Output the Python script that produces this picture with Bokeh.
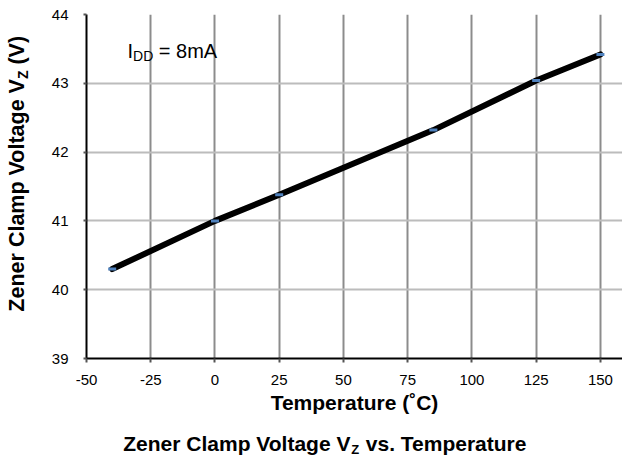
from bokeh.plotting import figure
from bokeh.models import Label, Range1d, FixedTicker, LinearAxis, AllLabels
from bokeh.embed import file_html
from bokeh.resources import INLINE

# ---- data ----
temperature_c = [-40, 0, 25, 85, 125, 150]
vz_volts = [40.30, 41.00, 41.38, 42.32, 43.04, 43.42]
x_ticks = [-50, -25, 0, 25, 50, 75, 100, 125, 150]
x_tick_labels = ["-50", "-25", "0", "25", "50", "75", "100", "125", "150"]
y_ticks = [39, 40, 41, 42, 43, 44]

title_main = "Zener Clamp Voltage V"
title_sub = "Z"
title_rest = "vs. Temperature"
ylabel_main = "Zener Clamp Voltage V"
ylabel_sub = "Z"
ylabel_rest = "(V)"
xlabel = "Temperature (\u02daC)"
note_main = "I"
note_sub = "DD"
note_rest = "= 8mA"

FONT = "Liberation Sans"

# approximate Arial / Liberation Sans advance widths (em)
BOLD_W = {"Z": .611, "e": .556, "n": .611, "r": .389, " ": .278, "C": .722, "l": .278,
          "a": .556, "m": .889, "p": .611, "V": .667, "o": .611, "t": .333, "g": .611,
          "(": .333, ")": .333, "v": .556, "s": .556, ".": .278, "T": .611, "u": .611}
REG_W = {"I": .278, "D": .722, " ": .278, "=": .584, "8": .556, "m": .833, "A": .667}


def tw(s, size, table):
    return sum(table.get(c, .55) for c in s) * size


W, H = 622, 459
FL, FR, FT, FB = 86, 0, 14, 99     # frame borders (page px)
X0, X1 = -50, 158.6
Y0, Y1 = 39, 44

p = figure(width=W, height=H, output_backend="svg", toolbar_location=None,
           x_range=Range1d(X0, X1), y_range=Range1d(Y0, Y1),
           min_border_left=FL, min_border_right=FR, min_border_top=FT,
           min_border_bottom=FB)
p.background_fill_color = "white"
p.border_fill_color = "white"
p.outline_line_color = None

frame_w = W - FL - FR
frame_h = H - FT - FB


def dx(px):
    return X0 + (px - FL) * (X1 - X0) / frame_w


def dy(py):
    return Y1 - (py - FT) * (Y1 - Y0) / frame_h


# pixel-addressed ranges used only to place label text in the side panels
p.extra_x_ranges = {"tpx": Range1d(FL, W - FR)}
p.extra_y_ranges = {"ypx": Range1d(H - FB, FT)}

# grids
p.xgrid.ticker = FixedTicker(ticks=x_ticks)
p.ygrid.ticker = FixedTicker(ticks=y_ticks)
p.xgrid.grid_line_color = "#8c8c8c"
p.xgrid.grid_line_width = 2
p.ygrid.grid_line_color = "#bcbcbc"
p.ygrid.grid_line_width = 2

# main axes
for ax in (p.xaxis[0], p.yaxis[0]):
    ax.axis_line_color = "black"
    ax.axis_line_width = 2
    ax.major_tick_line_color = "#555555"
    ax.major_tick_line_width = 2
    ax.major_tick_in = 0
    ax.minor_tick_line_color = None
    ax.major_label_text_font = FONT
    ax.major_label_text_font_size = "15px"
    ax.major_label_text_color = "black"
p.xaxis[0].ticker = FixedTicker(ticks=x_ticks)
p.xaxis[0].major_label_overrides = {t: s for t, s in zip(x_ticks, x_tick_labels)}
p.yaxis[0].ticker = FixedTicker(ticks=y_ticks)
p.xaxis[0].major_tick_out = 4
p.xaxis[0].major_label_standoff = 12
p.yaxis[0].major_tick_out = 3
p.yaxis[0].major_label_standoff = 15
p.xaxis[0].axis_label = xlabel
p.xaxis[0].axis_label_text_font = FONT
p.xaxis[0].axis_label_text_font_size = "21px"
p.xaxis[0].axis_label_text_font_style = "bold"
p.xaxis[0].axis_label_text_color = "black"
p.xaxis[0].axis_label_standoff = 3
p.yaxis[0].axis_label = None

# data
p.line(temperature_c, vz_volts, line_color="black", line_width=6,
       line_join="round", line_cap="round")
p.scatter(temperature_c, vz_volts, marker="dash", size=8,
          line_color="#4F81BD", line_width=3)


def text_axis(side, rng, pieces, size, standoff, orient="horizontal"):
    ticks = [round(c, 2) for c, _ in pieces]
    kw = dict(ticker=FixedTicker(ticks=ticks),
              major_label_overrides={round(c, 2): t for c, t in pieces},
              major_label_policy=AllLabels(),
              axis_line_color=None, major_tick_line_color=None,
              minor_tick_line_color=None, major_tick_out=0, major_tick_in=0,
              minor_tick_out=0, minor_tick_in=0,
              major_label_standoff=standoff,
              major_label_orientation=orient,
              major_label_text_font=FONT,
              major_label_text_font_size=f"{size}px",
              major_label_text_font_style="bold",
              major_label_text_color="black")
    if side in ("below", "above"):
        ax = LinearAxis(x_range_name=rng, **kw)
    else:
        ax = LinearAxis(y_range_name=rng, **kw)
    p.add_layout(ax, side)


# title below the chart: subscript layer first, then the main text pulled back up
BIG, SMALL = 21, 13
sp = tw(" ", BIG, BOLD_W)
t0 = 122
t1 = t0 + tw(title_main, BIG, BOLD_W)
t2 = t1 + tw(title_sub, SMALL, BOLD_W)
t3 = t2 + sp
text_axis("below", "tpx", [((t1 + t2) / 2, title_sub)], SMALL, 25)
text_axis("below", "tpx",
          [((t0 + t1) / 2, title_main),
           (t3 + tw(title_rest, BIG, BOLD_W) / 2, title_rest)], BIG, -28)

# y axis title (reads bottom to top): subscript first (nearer), then main pieces
YB, YS = 21.5, 14
spy = tw(" ", YB, BOLD_W)
y0 = 313
y1 = y0 - tw(ylabel_main, YB, BOLD_W)
y2 = y1 - tw(ylabel_sub, YS, BOLD_W)
y3 = y2 - spy
text_axis("left", "ypx", [((y1 + y2) / 2, ylabel_sub)], YS, 17, "parallel")
text_axis("left", "ypx",
          [((y0 + y1) / 2, ylabel_main),
           (y3 - tw(ylabel_rest, YB, BOLD_W) / 2, ylabel_rest)], YB, -17, "parallel")


def add_label(text, px, py, size):
    p.add_layout(Label(x=dx(px), y=dy(py), text=text, text_font=FONT,
                       text_font_size=f"{size}px", text_color="black",
                       text_align="left", text_baseline="alphabetic"))


# annotation I_DD = 8mA inside the plot area
a0 = 127
a1 = a0 + tw(note_main, 20, REG_W)
a2 = a1 + tw(note_sub, 14, REG_W)
add_label(note_main, a0, 51, 20)
add_label(note_sub, a1, 56, 14)
add_label(note_rest, a2 + tw(" ", 20, REG_W), 51, 20)

open("out.html", "w").write(file_html(p, INLINE))
